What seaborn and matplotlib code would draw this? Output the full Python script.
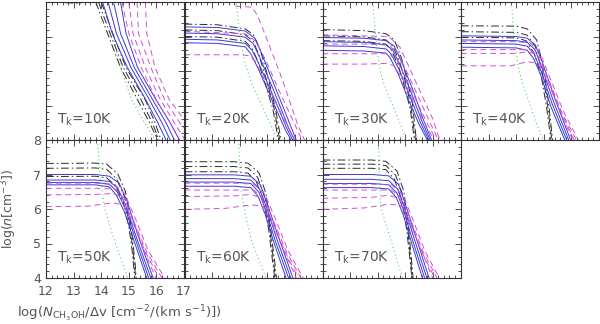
import matplotlib
matplotlib.use('Agg')

import matplotlib.pyplot as plt
from matplotlib.ticker import MultipleLocator
import pandas as pd
import seaborn as sns

# Kinetic temperatures of the panels
temps = [10, 20, 30, 40, 50, 60, 70]

# Curves: each curve is a list of (log N/dv, log n) points
# T = 10 K
t10_black = [
    [(12.7, 7.98), (13.25, 7.96), (13.35, 8.05)],
    [(13.8, 8.0), (14.23, 7.09), (14.7, 6.1), (15.32, 5.16), (15.75, 4.5), (16.05, 4.0)],
    [(13.9, 8.0), (14.32, 7.09), (14.8, 6.1), (15.45, 5.16), (15.85, 4.5), (16.1, 4.0)],
    [(14.0, 8.0), (14.42, 7.09), (14.9, 6.1), (15.6, 5.16), (15.95, 4.5), (16.17, 4.0)],
]
t10_blue = [
    [(14.05, 8.0), (14.4, 7.09), (14.95, 6.1), (15.62, 5.16), (16.05, 4.5), (16.35, 4.0)],
    [(14.25, 8.0), (14.55, 7.09), (15.08, 6.1), (15.75, 5.16), (16.2, 4.5), (16.5, 4.0)],
    [(14.45, 8.0), (14.7, 7.09), (15.2, 6.1), (15.87, 5.16), (16.35, 4.5), (16.65, 4.0)],
    [(14.7, 8.0), (14.9, 7.09), (15.32, 6.1), (15.99, 5.16), (16.5, 4.5), (16.83, 4.0)],
]
t10_magenta = [
    [(14.75, 8.0), (15.0, 7.09), (15.45, 6.1), (16.0, 5.16), (16.5, 4.5), (16.85, 4.0)],
    [(15.0, 8.0), (15.15, 7.09), (15.6, 6.1), (16.15, 5.16), (16.65, 4.5), (17.0, 4.05)],
    [(15.3, 8.0), (15.35, 7.09), (15.8, 6.1), (16.3, 5.16), (16.85, 4.5), (17.0, 4.35)],
    [(15.6, 8.0), (15.65, 7.09), (15.95, 6.1), (16.47, 5.16), (17.0, 4.6)],
]
t10_green = [
    [(14.42, 7.1), (14.55, 6.6), (14.75, 6.0), (15.08, 5.2), (15.5, 4.6), (15.95, 4.0)],
]

# T = 20 K
t20_black = [
    [(12, 7.36), (13.2, 7.34), (14.2, 7.22), (14.5, 7.05), (14.75, 6.6), (15.0, 5.9), (15.3, 4.9), (15.5, 4.0)],
    [(12, 7.19), (13.2, 7.17), (14.2, 7.05), (14.5, 6.85), (14.7, 6.45), (14.95, 5.8), (15.25, 4.9), (15.45, 4.0)],
    [(12, 7.0), (13.2, 6.98), (14.2, 6.86), (14.45, 6.65), (14.65, 6.3), (14.9, 5.7), (15.2, 4.9), (15.4, 4.0)],
]
t20_blue = [
    [(12, 7.28), (13.2, 7.26), (14.2, 7.16), (14.55, 6.95), (14.8, 6.5), (15.3, 5.5), (15.8, 4.5), (16.05, 4.0)],
    [(12, 7.1), (13.2, 7.08), (14.2, 6.98), (14.5, 6.78), (14.75, 6.35), (15.25, 5.4), (15.75, 4.4), (15.98, 4.0)],
    [(12, 6.92), (13.2, 6.9), (14.2, 6.8), (14.45, 6.6), (14.7, 6.2), (15.2, 5.3), (15.7, 4.35), (15.92, 4.0)],
    [(12, 6.82), (13.2, 6.8), (14.2, 6.7), (14.4, 6.5), (14.65, 6.1), (15.15, 5.2), (15.65, 4.3), (15.86, 4.0)],
]
t20_magenta = [
    [(13.85, 7.88), (14.45, 7.85), (14.65, 7.6), (14.9, 7.1), (15.5, 5.85), (16.1, 4.45), (16.35, 4.0)],
    [(12, 7.15), (14.2, 7.08), (14.6, 6.85), (14.95, 6.3), (15.5, 5.3), (16.0, 4.45), (16.25, 4.0)],
    [(12, 6.47), (14.0, 6.47), (14.3, 6.45), (14.55, 6.3), (14.8, 5.9), (15.3, 5.1), (15.8, 4.3), (16.0, 4.0)],
]
t20_green = [
    [(13.87, 8.06), (13.99, 7.09), (14.1, 6.6), (14.23, 6.13), (14.45, 5.6), (14.72, 5.16), (15.0, 4.65), (15.26, 4.2), (15.44, 4.0)],
]

# T = 30 K
t30_black = [
    [(12, 7.2), (13.5, 7.17), (14.3, 7.08), (14.6, 6.9), (14.85, 6.4), (15.05, 5.8), (15.25, 5.1), (15.4, 4.0)],
    [(12, 7.02), (13.5, 6.99), (14.3, 6.9), (14.55, 6.72), (14.8, 6.25), (15.0, 5.7), (15.2, 5.0), (15.37, 4.0)],
    [(12, 6.88), (13.5, 6.86), (14.3, 6.78), (14.5, 6.6), (14.75, 6.15), (14.95, 5.6), (15.18, 4.9), (15.33, 4.0)],
]
t30_blue = [
    [(12, 6.97), (13.5, 6.95), (14.3, 6.88), (14.6, 6.72), (14.9, 6.2), (15.3, 5.4), (15.65, 4.6), (15.95, 4.0)],
    [(12, 6.85), (13.5, 6.83), (14.3, 6.76), (14.55, 6.6), (14.85, 6.1), (15.25, 5.3), (15.6, 4.55), (15.9, 4.0)],
    [(12, 6.73), (13.5, 6.71), (14.3, 6.64), (14.5, 6.48), (14.8, 6.0), (15.2, 5.2), (15.55, 4.5), (15.85, 4.0)],
    [(12, 6.6), (13.5, 6.58), (14.3, 6.52), (14.45, 6.38), (14.75, 5.9), (15.15, 5.1), (15.5, 4.45), (15.8, 4.0)],
]
t30_magenta = [
    [(12, 7.05), (14.4, 7.0), (14.8, 6.7), (15.2, 6.0), (15.6, 5.3), (16.0, 4.6), (16.25, 4.0)],
    [(12, 6.78), (13.5, 6.78), (14.4, 6.75), (14.75, 6.5), (15.1, 5.9), (15.5, 5.2), (15.9, 4.5), (16.2, 4.0)],
    [(12, 6.5), (13.5, 6.5), (14.4, 6.5), (14.7, 6.3), (15.05, 5.75), (15.45, 5.05), (15.85, 4.4), (16.12, 4.0)],
    [(12, 6.2), (13.5, 6.2), (14.3, 6.22), (14.6, 6.15), (14.95, 5.7), (15.4, 4.95), (15.8, 4.35), (16.05, 4.0)],
]
t30_green = [
    [(13.82, 8.0), (13.9, 7.2), (14.0, 6.5), (14.1, 5.94), (14.3, 5.45), (14.57, 4.96), (14.8, 4.5), (15.04, 4.0)],
]

# T = 40 K
t40_black = [
    [(12, 7.31), (14.0, 7.3), (14.4, 7.22), (14.74, 6.9), (14.98, 6.13), (15.16, 5.16), (15.32, 4.0)],
    [(12, 7.14), (14.0, 7.12), (14.4, 7.04), (14.7, 6.7), (14.95, 5.95), (15.13, 5.05), (15.29, 4.0)],
    [(12, 6.98), (14.0, 6.96), (14.35, 6.88), (14.65, 6.52), (14.92, 5.8), (15.1, 4.95), (15.26, 4.0)],
]
t40_blue = [
    [(12, 7.02), (14.0, 7.0), (14.4, 6.95), (14.7, 6.75), (14.95, 6.25), (15.4, 5.2), (15.97, 4.0)],
    [(12, 6.9), (14.0, 6.88), (14.4, 6.83), (14.68, 6.62), (14.92, 6.12), (15.35, 5.12), (15.9, 4.0)],
    [(12, 6.8), (14.0, 6.78), (14.4, 6.72), (14.65, 6.5), (14.9, 6.0), (15.3, 5.05), (15.83, 4.0)],
    [(12, 6.69), (14.0, 6.67), (14.4, 6.6), (14.62, 6.38), (14.88, 5.9), (15.25, 4.98), (15.76, 4.0)],
]
t40_magenta = [
    [(12, 6.85), (14.0, 6.85), (14.5, 6.82), (14.85, 6.55), (15.2, 5.85), (15.7, 4.85), (16.25, 4.0)],
    [(12, 6.62), (14.0, 6.62), (14.5, 6.62), (14.85, 6.4), (15.15, 5.8), (15.65, 4.8), (16.18, 4.0)],
    [(12, 6.51), (14.0, 6.51), (14.4, 6.56), (14.75, 6.48), (15.1, 5.85), (15.6, 4.85), (16.1, 4.0)],
    [(12, 6.15), (13.8, 6.15), (14.4, 6.27), (14.8, 6.22), (15.15, 5.7), (15.6, 4.8), (16.05, 4.0)],
]
t40_green = [
    [(13.83, 8.0), (13.9, 7.2), (14.0, 6.6), (14.07, 6.13), (14.25, 5.6), (14.44, 5.16), (14.7, 4.55), (14.98, 4.0)],
]

# T = 50 K
t50_black = [
    [(12, 7.32), (13.8, 7.33), (14.2, 7.3), (14.6, 7.02), (14.88, 6.5), (15.05, 5.7), (15.15, 5.0), (15.22, 4.5), (15.27, 4.0)],
    [(12, 7.18), (13.8, 7.19), (14.2, 7.15), (14.55, 6.88), (14.85, 6.35), (15.02, 5.6), (15.14, 4.9), (15.2, 4.4), (15.25, 4.0)],
    [(12, 6.94), (13.8, 6.95), (14.2, 6.9), (14.5, 6.7), (14.8, 6.2), (15.0, 5.5), (15.12, 4.8), (15.18, 4.3), (15.22, 4.0)],
]
t50_blue = [
    [(12, 7.0), (13.8, 7.0), (14.3, 6.95), (14.65, 6.75), (14.95, 6.2), (15.35, 5.2), (15.88, 4.0)],
    [(12, 6.84), (13.8, 6.84), (14.3, 6.8), (14.6, 6.6), (14.9, 6.08), (15.3, 5.12), (15.8, 4.0)],
    [(12, 6.77), (13.8, 6.77), (14.3, 6.72), (14.58, 6.5), (14.88, 6.0), (15.27, 5.05), (15.72, 4.0)],
    [(12, 6.7), (13.8, 6.7), (14.3, 6.64), (14.55, 6.4), (14.85, 5.9), (15.23, 4.98), (15.65, 4.0)],
]
t50_magenta = [
    [(12, 6.75), (13.8, 6.75), (14.5, 6.7), (14.85, 6.45), (15.2, 5.8), (15.7, 4.8), (16.3, 4.0)],
    [(12, 6.6), (13.8, 6.6), (14.5, 6.58), (14.85, 6.3), (15.15, 5.7), (15.65, 4.75), (16.2, 4.0)],
    [(12, 6.41), (13.8, 6.42), (14.4, 6.45), (14.75, 6.35), (15.1, 5.75), (15.6, 4.75), (16.1, 4.0)],
    [(12, 6.07), (13.5, 6.08), (14.4, 6.18), (14.8, 6.12), (15.15, 5.6), (15.55, 4.8), (15.98, 4.0)],
]
t50_green = [
    [(13.87, 8.0), (13.96, 7.03), (14.11, 6.07), (14.3, 5.55), (14.48, 5.1), (14.72, 4.55), (14.96, 4.0)],
]

# T = 60 K
t60_black = [
    [(12, 7.37), (13.8, 7.37), (14.3, 7.33), (14.7, 7.05), (14.95, 6.45), (15.1, 5.6), (15.2, 4.9), (15.28, 4.4), (15.33, 4.0)],
    [(12, 7.23), (13.8, 7.23), (14.3, 7.19), (14.65, 6.92), (14.92, 6.3), (15.08, 5.5), (15.18, 4.8), (15.25, 4.3), (15.3, 4.0)],
    [(12, 7.08), (13.8, 7.08), (14.3, 7.04), (14.6, 6.8), (14.88, 6.2), (15.05, 5.4), (15.15, 4.75), (15.22, 4.3), (15.27, 4.0)],
]
t60_blue = [
    [(12, 6.99), (13.8, 6.99), (14.4, 6.95), (14.75, 6.7), (15.0, 6.15), (15.4, 5.2), (15.93, 4.0)],
    [(12, 6.88), (13.8, 6.88), (14.4, 6.84), (14.72, 6.58), (14.97, 6.05), (15.35, 5.12), (15.85, 4.0)],
    [(12, 6.78), (13.8, 6.78), (14.4, 6.74), (14.7, 6.48), (14.95, 5.95), (15.3, 5.05), (15.77, 4.0)],
    [(12, 6.66), (13.8, 6.66), (14.4, 6.62), (14.67, 6.36), (14.92, 5.85), (15.26, 4.98), (15.68, 4.0)],
]
t60_magenta = [
    [(12, 6.75), (13.8, 6.75), (14.5, 6.72), (14.9, 6.45), (15.25, 5.8), (15.75, 4.8), (16.3, 4.0)],
    [(12, 6.55), (13.8, 6.55), (14.5, 6.55), (14.88, 6.3), (15.2, 5.7), (15.7, 4.75), (16.22, 4.0)],
    [(12, 6.36), (13.8, 6.38), (14.4, 6.42), (14.8, 6.32), (15.15, 5.7), (15.65, 4.75), (16.13, 4.0)],
    [(12, 5.99), (13.5, 6.02), (14.4, 6.12), (14.85, 6.08), (15.2, 5.55), (15.6, 4.8), (16.05, 4.0)],
]
t60_green = [
    [(13.97, 8.0), (14.0, 7.2), (14.05, 6.55), (14.2, 5.85), (14.42, 5.1), (14.7, 4.5), (14.96, 4.0)],
]

# T = 70 K
t70_black = [
    [(12, 7.42), (13.8, 7.42), (14.3, 7.38), (14.7, 7.1), (14.95, 6.5), (15.1, 5.6), (15.18, 4.9), (15.24, 4.4), (15.28, 4.0)],
    [(12, 7.3), (13.8, 7.3), (14.3, 7.26), (14.65, 6.98), (14.92, 6.38), (15.08, 5.5), (15.16, 4.8), (15.22, 4.3), (15.26, 4.0)],
    [(12, 7.18), (13.8, 7.18), (14.3, 7.14), (14.6, 6.87), (14.88, 6.25), (15.05, 5.4), (15.14, 4.75), (15.2, 4.3), (15.24, 4.0)],
]
t70_blue = [
    [(12, 7.0), (13.8, 7.0), (14.4, 6.96), (14.75, 6.72), (15.0, 6.15), (15.38, 5.2), (15.86, 4.0)],
    [(12, 6.86), (13.8, 6.86), (14.4, 6.82), (14.72, 6.58), (14.97, 6.04), (15.33, 5.12), (15.78, 4.0)],
    [(12, 6.74), (13.8, 6.74), (14.4, 6.7), (14.7, 6.46), (14.95, 5.94), (15.28, 5.05), (15.7, 4.0)],
    [(12, 6.62), (13.8, 6.62), (14.4, 6.58), (14.67, 6.34), (14.92, 5.84), (15.24, 4.98), (15.62, 4.0)],
]
t70_magenta = [
    [(12, 6.72), (13.8, 6.72), (14.5, 6.7), (14.9, 6.42), (15.25, 5.75), (15.7, 4.8), (16.23, 4.0)],
    [(12, 6.55), (13.8, 6.55), (14.5, 6.55), (14.88, 6.3), (15.2, 5.68), (15.65, 4.75), (16.15, 4.0)],
    [(12, 6.31), (13.8, 6.34), (14.4, 6.4), (14.8, 6.3), (15.15, 5.65), (15.6, 4.75), (16.07, 4.0)],
    [(12, 5.99), (13.5, 6.03), (14.4, 6.14), (14.85, 6.1), (15.2, 5.55), (15.58, 4.8), (15.99, 4.0)],
]
t70_green = [
    [(14.03, 8.0), (14.05, 7.2), (14.11, 6.07), (14.3, 5.55), (14.48, 5.1), (14.7, 4.5), (14.9, 4.0)],
]

panels = [
    (t10_black, t10_blue, t10_magenta, t10_green),
    (t20_black, t20_blue, t20_magenta, t20_green),
    (t30_black, t30_blue, t30_magenta, t30_green),
    (t40_black, t40_blue, t40_magenta, t40_green),
    (t50_black, t50_blue, t50_magenta, t50_green),
    (t60_black, t60_blue, t60_magenta, t60_green),
    (t70_black, t70_blue, t70_magenta, t70_green),
]

families = ['black', 'blue', 'magenta', 'green']
palette = {'black': '#2a2a2a', 'blue': '#3a3ad8', 'magenta': '#d24fd2', 'green': '#2ecc2e'}
dashes = {'black': (8, 3, 1.5, 3), 'blue': '', 'magenta': (6, 4), 'green': (1, 3)}

text_col = '#555555'
plt.rcParams['font.family'] = ['DejaVu Sans']

fig = plt.figure(figsize=(6, 3.24), dpi=100)
W, H = 600, 324
lefts = [46, 184.5, 322.5, 461]
pw, ph = 138, 138
row_bottoms = [140, 278]  # pixel y of each row's bottom edge

for k, (T, curves) in enumerate(zip(temps, panels)):
    row, col = divmod(k, 4)
    ax = fig.add_axes([lefts[col] / W, (H - row_bottoms[row]) / H, pw / W, ph / H])

    rows = []
    for fam, fam_curves in zip(families, curves):
        for i, c in enumerate(fam_curves):
            for x, y in c:
                rows.append({'x': x, 'y': y, 'fam': fam, 'curve': f'{fam}{i}'})
    df = pd.DataFrame(rows)

    sns.lineplot(data=df, x='x', y='y', hue='fam', style='fam', units='curve',
                 estimator=None, sort=False, palette=palette, dashes=dashes,
                 legend=False, lw=0.7, ax=ax)

    ax.set_xlim(12, 17)
    ax.set_ylim(4, 8)
    ax.xaxis.set_major_locator(MultipleLocator(1))
    ax.xaxis.set_minor_locator(MultipleLocator(0.2))
    ax.yaxis.set_major_locator(MultipleLocator(1))
    ax.yaxis.set_minor_locator(MultipleLocator(0.2))
    ax.tick_params(which='both', direction='in', top=True, right=True,
                   color='#333333', width=0.6, labelcolor=text_col, labelsize=9)
    ax.tick_params(which='major', length=4)
    ax.tick_params(which='minor', length=2)
    ax.tick_params(axis='x', pad=5)
    for sp in ax.spines.values():
        sp.set_color('#333333')
        sp.set_linewidth(0.8)
    ax.set_xlabel('')
    ax.set_ylabel('')

    if k == 4:
        ax.set_xlabel(r'log($N_{\mathrm{CH_3OH}}$/$\Delta$v [cm$^{-2}$/(km s$^{-1}$)])',
                      fontsize=9.5, color=text_col)
        ax.xaxis.set_label_coords(0.53, -0.19)
        ax.set_ylabel(r'log($n$[cm$^{-3}$])', fontsize=9, color=text_col)
        ax.yaxis.set_label_coords(-0.195, 0.5)
    else:
        ax.tick_params(labelbottom=False, labelleft=False)

    ax.text(0.08, 0.15, rf'T$_\mathrm{{k}}$={T}K', transform=ax.transAxes,
            fontsize=10, color=text_col, va='center', ha='left')

fig.savefig('out.png', dpi=100)
